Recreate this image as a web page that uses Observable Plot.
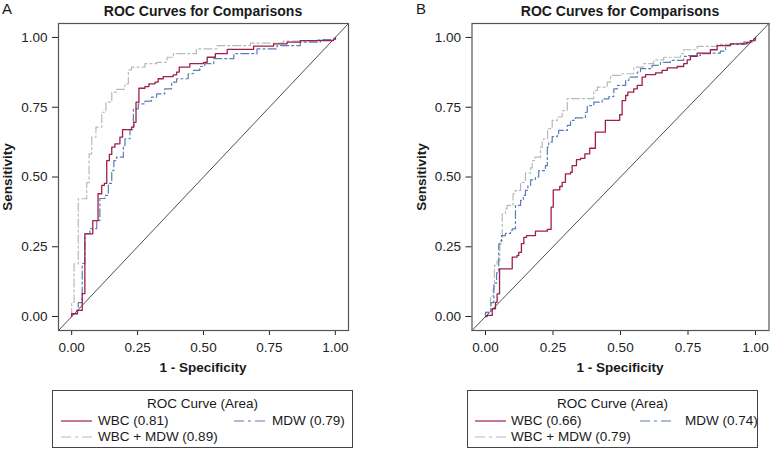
<!DOCTYPE html>
<html><head><meta charset="utf-8">
<script src="https://cdn.jsdelivr.net/npm/d3@7"></script>
<script src="https://cdn.jsdelivr.net/npm/@observablehq/plot@0.6"></script>
<style>
body{margin:0;background:#fff;}
#wrap{position:relative;width:770px;height:449px;overflow:hidden;font-family:"Liberation Sans",Arial,Helvetica,sans-serif;color:#1a1a1a;}
.abs{position:absolute;white-space:nowrap;line-height:1;}
.c{transform:translate(-50%,-50%);}
.lv{transform:translate(0,-50%);}
.box{position:absolute;border:1px solid #444;box-sizing:border-box;}
svg.plot{position:absolute;top:0;}
</style></head><body><div id="wrap"></div>
<script>
// ---------- data ----------
const axisTicks = [0, 0.25, 0.5, 0.75, 1];
const tickLabels = ["0.00", "0.25", "0.50", "0.75", "1.00"];
const seriesNames = ["WBC", "MDW", "WBC + MDW"];
const aucA = [0.81, 0.79, 0.89];
const aucB = [0.66, 0.74, 0.79];
const chanceLine = [[-0.05, -0.05], [1.05, 1.05]];

const wbcA = [[0,0],[0,0.01],[0.022,0.022],[0.04,0.082],[0.05,0.296],[0.08,0.344],[0.10,0.44],[0.114,0.47],[0.124,0.477],[0.133,0.559],[0.143,0.581],[0.152,0.607],[0.164,0.619],[0.183,0.643],[0.193,0.67],[0.227,0.679],[0.236,0.696],[0.244,0.768],[0.255,0.818],[0.278,0.824],[0.293,0.834],[0.316,0.84],[0.328,0.852],[0.347,0.86],[0.385,0.866],[0.398,0.876],[0.408,0.894],[0.448,0.906],[0.50,0.911],[0.514,0.929],[0.545,0.942],[0.59,0.957],[0.69,0.969],[0.766,0.977],[0.817,0.983],[0.867,0.989],[0.993,0.994],[1,1]];
const mdwA = [[0,0],[0,0.01],[0.015,0.022],[0.025,0.05],[0.04,0.19],[0.05,0.297],[0.069,0.315],[0.095,0.344],[0.107,0.423],[0.126,0.434],[0.139,0.477],[0.152,0.523],[0.160,0.559],[0.170,0.571],[0.196,0.613],[0.202,0.637],[0.221,0.670],[0.234,0.744],[0.253,0.762],[0.278,0.772],[0.303,0.786],[0.322,0.798],[0.353,0.816],[0.379,0.840],[0.398,0.852],[0.442,0.870],[0.461,0.882],[0.486,0.896],[0.505,0.906],[0.539,0.924],[0.615,0.942],[0.703,0.959],[0.779,0.971],[0.867,0.983],[0.943,0.992],[0.993,0.994],[1,1]];
const comboA = [[0,0],[0,0.051],[0.009,0.189],[0.025,0.422],[0.057,0.48],[0.066,0.583],[0.076,0.643],[0.092,0.679],[0.114,0.732],[0.13,0.768],[0.152,0.804],[0.170,0.814],[0.202,0.834],[0.215,0.884],[0.227,0.894],[0.278,0.906],[0.322,0.911],[0.362,0.929],[0.386,0.942],[0.473,0.959],[0.552,0.971],[0.678,0.98],[0.803,0.987],[0.931,0.992],[0.993,0.994],[1,1]];

const wbcB = [[0,0],[0.006,0.004],[0.025,0.028],[0.037,0.051],[0.043,0.081],[0.052,0.171],[0.099,0.213],[0.117,0.219],[0.123,0.230],[0.133,0.261],[0.142,0.284],[0.152,0.290],[0.185,0.306],[0.229,0.312],[0.243,0.392],[0.251,0.454],[0.275,0.466],[0.284,0.481],[0.296,0.511],[0.315,0.517],[0.321,0.541],[0.337,0.562],[0.352,0.567],[0.368,0.583],[0.386,0.603],[0.407,0.661],[0.444,0.703],[0.497,0.723],[0.506,0.774],[0.519,0.792],[0.527,0.804],[0.549,0.816],[0.562,0.828],[0.580,0.858],[0.593,0.867],[0.630,0.873],[0.654,0.882],[0.673,0.891],[0.710,0.896],[0.734,0.906],[0.747,0.92],[0.759,0.932],[0.784,0.944],[0.833,0.956],[0.858,0.971],[0.907,0.977],[0.969,0.982],[0.981,0.989],[0.994,0.995],[1,1]];
const mdwB = [[0,0],[0,0.015],[0.02,0.05],[0.031,0.12],[0.041,0.157],[0.049,0.26],[0.059,0.290],[0.074,0.298],[0.093,0.308],[0.099,0.314],[0.111,0.398],[0.130,0.416],[0.140,0.434],[0.148,0.452],[0.157,0.470],[0.167,0.490],[0.185,0.5],[0.197,0.523],[0.222,0.541],[0.229,0.607],[0.234,0.625],[0.247,0.645],[0.266,0.652],[0.271,0.667],[0.303,0.685],[0.315,0.703],[0.333,0.712],[0.370,0.732],[0.377,0.756],[0.401,0.768],[0.432,0.780],[0.457,0.788],[0.475,0.816],[0.488,0.828],[0.519,0.846],[0.531,0.858],[0.562,0.876],[0.574,0.888],[0.617,0.9],[0.648,0.911],[0.685,0.918],[0.734,0.932],[0.747,0.935],[0.796,0.942],[0.833,0.944],[0.870,0.951],[0.889,0.971],[0.907,0.975],[0.957,0.983],[0.988,0.989],[1,1]];
const comboB = [[0,0],[0,0.015],[0.019,0.073],[0.028,0.099],[0.033,0.183],[0.043,0.2],[0.053,0.272],[0.062,0.368],[0.074,0.386],[0.080,0.398],[0.102,0.44],[0.111,0.452],[0.130,0.481],[0.148,0.514],[0.167,0.533],[0.173,0.559],[0.183,0.571],[0.204,0.607],[0.21,0.631],[0.215,0.637],[0.23,0.673],[0.247,0.703],[0.266,0.715],[0.284,0.738],[0.303,0.781],[0.401,0.810],[0.414,0.822],[0.451,0.84],[0.463,0.864],[0.5,0.87],[0.549,0.894],[0.586,0.906],[0.623,0.92],[0.660,0.929],[0.722,0.942],[0.734,0.956],[0.784,0.968],[0.858,0.975],[0.932,0.980],[0.981,0.989],[1,1]];

// ---------- styles ----------
const FONT = '"Liberation Sans", Arial, Helvetica, sans-serif';
const styles = [
  {stroke: "#9e1f4b", dash: null, width: 1.3},
  {stroke: "#5a7db4", dash: "8,3,2,3", width: 1.2},
  {stroke: "#b9b9b9", dash: "8,3,2,3", width: 1.2}
];
const legendDash = [null, "10,4,3,4", "10,4,3,4"];
const fmt = d => tickLabels[axisTicks.indexOf(d)];

function panel(series, ml, mr) {
  const [wbc, mdw, combo] = series;
  const ln = (data, s) => Plot.line(data, {x: d => d[0], y: d => d[1], curve: "step-after",
    stroke: s.stroke, strokeWidth: s.width, strokeDasharray: s.dash});
  const svg = Plot.plot({
    width: 385, height: 380,
    marginLeft: ml, marginRight: mr, marginTop: 23, marginBottom: 50,
    style: {fontFamily: FONT, fontSize: "13.5px", color: "#222", background: "transparent", overflow: "visible"},
    x: {domain: [-0.05, 1.05], ticks: axisTicks, tickFormat: fmt, label: null, tickSize: 5, tickPadding: 7},
    y: {domain: [-0.05, 1.05], ticks: axisTicks, tickFormat: fmt, label: null, tickSize: 6, tickPadding: 5},
    marks: [
      Plot.line(chanceLine, {x: d => d[0], y: d => d[1], stroke: "#222", strokeWidth: 0.8}),
      ln(combo, styles[2]),
      ln(mdw, styles[1]),
      ln(wbc, styles[0]),
      Plot.frame({stroke: "#555", strokeWidth: 1.2})
    ]
  });
  svg.classList.add("plot");
  return svg;
}

const wrap = document.getElementById("wrap");
function txt(s, x, y, cls, css) {
  const d = document.createElement("div");
  d.className = "abs " + cls;
  d.textContent = s;
  d.style.left = x + "px"; d.style.top = y + "px";
  Object.assign(d.style, css || {});
  wrap.appendChild(d);
  return d;
}
function swatch(x, y, i) {
  const ns = "http://www.w3.org/2000/svg";
  const s = document.createElementNS(ns, "svg");
  s.setAttribute("width", 31); s.setAttribute("height", 6);
  s.style.position = "absolute"; s.style.left = x + "px"; s.style.top = (y - 3) + "px";
  const l = document.createElementNS(ns, "line");
  l.setAttribute("x1", 0); l.setAttribute("x2", 31); l.setAttribute("y1", 3); l.setAttribute("y2", 3);
  l.setAttribute("stroke", styles[i].stroke); l.setAttribute("stroke-width", 1.2);
  if (legendDash[i]) l.setAttribute("stroke-dasharray", legendDash[i]);
  s.appendChild(l);
  wrap.appendChild(s);
}

function build(letter, ox, series, auc, ml, mr, lay) {
  const svg = panel(series, ml, mr);
  svg.style.left = ox + "px";
  wrap.appendChild(svg);
  txt(letter, lay.letterX, 8, "c", {fontSize: "15px"});
  txt("ROC Curves for Comparisons", lay.cx, 11, "c", {fontSize: "14px", fontWeight: "bold"});
  txt("Sensitivity", lay.ylabX, 177, "c", {fontSize: "13.5px", fontWeight: "bold", transform: "translate(-50%,-50%) rotate(-90deg)"});
  txt("1 - Specificity", lay.cx, 368, "c", {fontSize: "13.5px", fontWeight: "bold"});
  const b = document.createElement("div");
  b.className = "box";
  Object.assign(b.style, {left: lay.boxL + "px", top: "390px", width: lay.boxW + "px", height: "58px"});
  wrap.appendChild(b);
  txt("ROC Curve (Area)", lay.boxL + lay.boxW / 2, 404, "c", {fontSize: "13.5px"});
  const lab = i => `${seriesNames[i]} (${auc[i].toFixed(2)})`;
  swatch(lay.sw1, 421, 0); txt(lab(0), lay.t1, 421, "lv", {fontSize: "13.5px"});
  swatch(lay.sw2, 421, 1); txt(lab(1), lay.t2, 421, "lv", {fontSize: "13.5px"});
  swatch(lay.sw1, 437, 2); txt(lab(2), lay.t1, 437, "lv", {fontSize: "13.5px"});
}

build("A", 0, [wbcA, mdwA, comboA], aucA, 58, 37,
  {letterX: 7, cx: 203, ylabX: 8, boxL: 52, boxW: 301, sw1: 61, t1: 98, sw2: 234, t2: 272});
build("B", 385, [wbcB, mdwB, comboB], aucB, 86.5, 1.5,
  {letterX: 421, cx: 620, ylabX: 422, boxL: 467, boxW: 291, sw1: 475, t1: 511, sw2: 640, t2: 685});
</script></body></html>
